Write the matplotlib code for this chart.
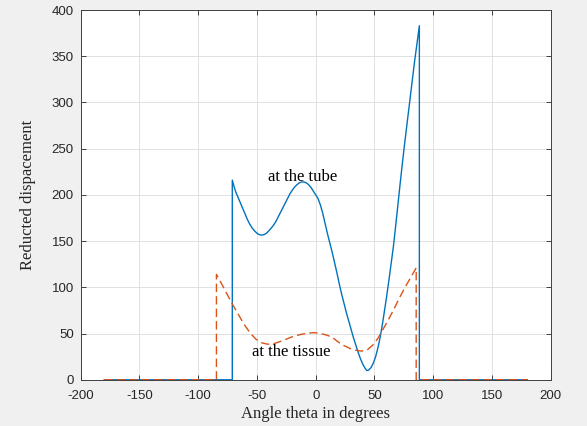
import matplotlib
matplotlib.use("Agg")
import matplotlib.pyplot as plt

plt.rcParams["axes.unicode_minus"] = False

# 管壁处的位移（蓝色实线）
theta_tube = [-180, -71, -71, -69.5, -68, -66, -64, -62, -60, -58, -56, -54, -52, -50, -48, -46,
              -44, -42, -40, -38, -36, -34, -32, -30, -28, -26, -24, -22, -20, -18, -16, -14,
              -12, -10, -8, -6, -4, -2, 0, 2, 4, 6, 8, 10, 12, 14, 16, 18, 20, 22, 24, 26, 28,
              30, 32, 34, 36, 38, 40, 42, 43.5, 45, 47, 49, 51, 53, 55, 57, 60, 62, 64, 66, 68,
              70, 72, 74, 76, 78, 80, 82, 84, 86, 88.2, 88.2, 180]
disp_tube = [0, 0, 216, 209, 203, 197, 191, 185, 179, 173, 168, 164, 161, 158.5, 157, 156.5,
             157, 158.5, 161, 164, 167, 171, 176, 181, 186, 191, 196, 201, 205, 208.5, 211, 213,
             214, 214, 213, 211, 208, 204, 200, 196, 189, 180, 169, 158, 148, 138, 127, 116, 104,
             93, 83, 73, 64, 55, 46, 38, 30, 23, 17, 12.5, 10, 10.5, 13, 18, 25, 35, 47, 62, 87,
             105, 124, 143, 166, 190, 214, 237, 259, 280, 301, 322, 343, 362, 383, 0, 0]

# 组织处的位移（橙色虚线）
theta_tissue = [-180, -84.5, -84.5, -81, -76, -71, -66, -61, -56, -51, -46, -41, -36, -31,
                -26, -21, -16, -11, -6, -1, 4, 9, 14, 19, 24, 29, 34, 39, 44, 49, 53, 57,
                61, 66, 71, 76, 81, 85.5, 85.5, 180]
disp_tissue = [0, 0, 114, 106, 94, 82, 71, 60, 51, 44, 40, 38.5, 39, 41,
               43.5, 46, 48, 49.5, 50.5, 51, 50, 48.5, 46, 41, 37, 34, 32, 31, 32.5, 38, 45, 54,
               63, 75, 88, 100, 111, 121, 0, 0]

xticks = list(range(-200, 201, 50))
yticks = list(range(0, 401, 50))

serif = ["Liberation Serif", "DejaVu Serif"]
sans = ["Liberation Sans", "DejaVu Sans"]

fig = plt.figure(figsize=(5.87, 4.26), dpi=100, facecolor="#f0f0f0")
ax = fig.add_axes([0.1375, 0.1085, 0.8007, 0.868])
ax.set_facecolor("white")

ax.plot(theta_tube, disp_tube, color="#0072BD", lw=1.0)
ax.plot(theta_tissue, disp_tissue, color="#D95319", lw=1.0, dashes=(6, 3))

ax.set_xlim(-200, 200)
ax.set_ylim(0, 400)
ax.set_xticks(xticks)
ax.set_yticks(yticks)
ax.grid(True, color="#dcdcdc", lw=0.6)
ax.set_axisbelow(True)
ax.tick_params(direction="in", length=3.5, width=0.6, colors="#262626",
               top=True, right=True, labelsize=9.5)
ax.tick_params(axis="x", pad=7)
ax.tick_params(axis="y", pad=5)
for lab in ax.get_xticklabels() + ax.get_yticklabels():
    lab.set_family(sans)
for s in ax.spines.values():
    s.set_color("#404040")
    s.set_linewidth(0.7)

ax.set_xlabel("Angle theta in degrees", family=serif, fontsize=12, color="#262626", labelpad=3)
ax.set_ylabel("Reducted dispacement", family=serif, fontsize=12, color="#262626", labelpad=11)

ax.text(-11.2, 219.5, "at the tube", family=serif, fontsize=12, ha="center", va="center")
ax.text(-20.4, 30.5, "at the tissue", family=serif, fontsize=12, ha="center", va="center")

fig.savefig("out.png", dpi=100, facecolor=fig.get_facecolor())
